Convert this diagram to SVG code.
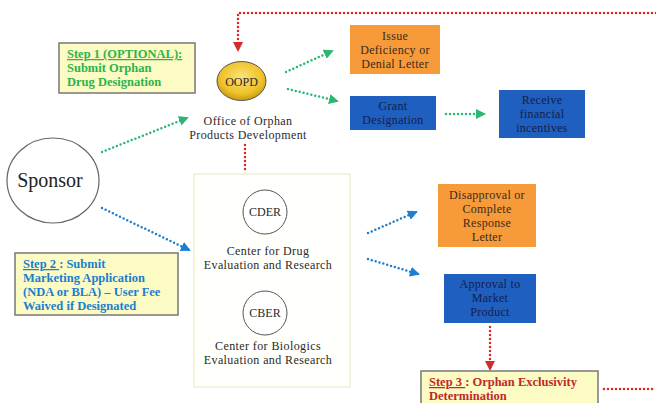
<svg xmlns="http://www.w3.org/2000/svg" width="656" height="403" viewBox="0 0 656 403" font-family="'Liberation Serif', serif">
<defs>
<radialGradient id="gold" cx="50%" cy="40%" r="60%">
<stop offset="0" stop-color="#fbe27a"/>
<stop offset="0.7" stop-color="#f0c22a"/>
<stop offset="1" stop-color="#c99a10"/>
</radialGradient>
<marker id="ag" viewBox="0 0 10 10" refX="8" refY="5" markerWidth="4" markerHeight="4" orient="auto"><path d="M0,0L10,5L0,10z" fill="#2bb673"/></marker>
<marker id="ab" viewBox="0 0 10 10" refX="8" refY="5" markerWidth="4" markerHeight="4" orient="auto"><path d="M0,0L10,5L0,10z" fill="#1d7fd1"/></marker>
<marker id="ar" viewBox="0 0 10 10" refX="8" refY="5" markerWidth="4" markerHeight="4" orient="auto"><path d="M0,0L10,5L0,10z" fill="#d42a2a"/></marker>
</defs>
<style>
text{font-family:'Liberation Serif',serif;text-anchor:middle}
.lbl{font-size:12px;letter-spacing:0.4px;fill:#2a2a2a}
.dark{font-size:12px;letter-spacing:0.3px;fill:#3a2a1a}
.navy{font-size:12px;letter-spacing:0.3px;fill:#14204a}
.step{font-size:12.5px;font-weight:bold;text-anchor:start}
.stepbox{fill:#fdfbc4;stroke:#777;stroke-width:1.5}
.g{stroke:#2bb673;stroke-width:2.5;stroke-dasharray:0 4;stroke-linecap:round;fill:none}
.b{stroke:#1d7fd1;stroke-width:2.5;stroke-dasharray:0 4;stroke-linecap:round;fill:none}
.r{stroke:#d42a2a;stroke-width:2.5;stroke-dasharray:0 4;stroke-linecap:round;fill:none}
.orange{fill:#f79a3a}
.blue{fill:#1f5fbf}
</style>
<rect width="656" height="403" fill="#fff"/>

<g id="connectors">
<path class="r" d="M656,13H238V50" marker-end="url(#ar)"/>
<path class="r" d="M245,145V172"/>
<path class="g" d="M102,152L187,118" marker-end="url(#ag)"/>
<path class="g" d="M286,72L332,51" marker-end="url(#ag)"/>
<path class="g" d="M288,89L337,101" marker-end="url(#ag)"/>
<path class="g" d="M446,114H484" marker-end="url(#ag)"/>
<path class="b" d="M102,208L189,250" marker-end="url(#ab)"/>
<path class="b" d="M368,233L416,212" marker-end="url(#ab)"/>
<path class="b" d="M368,259L418,274" marker-end="url(#ab)"/>
<path class="r" d="M490,327V369" marker-end="url(#ar)"/>
<path class="r" d="M604,389H656"/>
</g>

<g id="step1">
<rect class="stepbox" x="59" y="43" width="136" height="50"/>
<text class="step" fill="#2db34a" x="67" y="58" text-decoration="underline">Step 1 (OPTIONAL):</text>
<text class="step" fill="#2db34a" x="67" y="72">Submit Orphan</text>
<text class="step" fill="#2db34a" x="67" y="86">Drug Designation</text>
</g>

<g id="oopd">
<ellipse cx="241.5" cy="81" rx="24.5" ry="19.5" fill="url(#gold)" stroke="#555" stroke-width="1"/>
<text x="241.5" y="85.5" font-size="12" fill="#2a2a2a">OOPD</text>
<text class="lbl" x="248" y="125">Office of Orphan</text>
<text class="lbl" x="248" y="139">Products Development</text>
</g>

<g id="sponsor">
<ellipse cx="53" cy="180.5" rx="46" ry="42.5" fill="#fff" stroke="#666" stroke-width="1.2"/>
<text x="50" y="187" font-size="20" fill="#222">Sponsor</text>
</g>

<g id="issue">
<rect class="orange" x="350" y="25" width="90" height="49"/>
<text class="dark" x="395" y="40">Issue</text>
<text class="dark" x="395" y="54">Deficiency or</text>
<text class="dark" x="395" y="68">Denial Letter</text>
</g>

<g id="grant">
<rect class="blue" x="350" y="96" width="86" height="34"/>
<text class="navy" x="393" y="110">Grant</text>
<text class="navy" x="393" y="124">Designation</text>
</g>

<g id="receive">
<rect class="blue" x="499" y="90" width="86" height="48"/>
<text class="navy" x="542" y="104">Receive</text>
<text class="navy" x="542" y="118">financial</text>
<text class="navy" x="542" y="132">incentives</text>
</g>

<g id="centers">
<rect x="194" y="174" width="156" height="213" fill="#fffffb" stroke="#eeeacc" stroke-width="1.2"/>
<circle cx="265" cy="212" r="22" fill="#fff" stroke="#555" stroke-width="1"/>
<text x="265" y="216" font-size="12" fill="#2a2a2a">CDER</text>
<text class="lbl" x="268" y="255">Center for Drug</text>
<text class="lbl" x="268" y="269">Evaluation and Research</text>
<circle cx="265" cy="313" r="22" fill="#fff" stroke="#555" stroke-width="1"/>
<text x="265" y="317" font-size="12" fill="#2a2a2a">CBER</text>
<text class="lbl" x="268" y="350">Center for Biologics</text>
<text class="lbl" x="268" y="364">Evaluation and Research</text>
</g>

<g id="step2">
<rect class="stepbox" x="15" y="253" width="163" height="62"/>
<text class="step" fill="#1a7fd0" x="23" y="268"><tspan text-decoration="underline">Step 2 </tspan>:  Submit</text>
<text class="step" fill="#1a7fd0" x="23" y="282">Marketing Application</text>
<text class="step" fill="#1a7fd0" x="23" y="296">(NDA or BLA) – User Fee</text>
<text class="step" fill="#1a7fd0" x="23" y="310">Waived if Designated</text>
</g>

<g id="disapproval">
<rect class="orange" x="438" y="184" width="98" height="63"/>
<text class="dark" x="487" y="199">Disapproval or</text>
<text class="dark" x="487" y="213">Complete</text>
<text class="dark" x="487" y="227">Response</text>
<text class="dark" x="487" y="241">Letter</text>
</g>

<g id="approval">
<rect class="blue" x="444" y="274" width="92" height="49"/>
<text class="navy" x="490" y="288">Approval to</text>
<text class="navy" x="490" y="302">Market</text>
<text class="navy" x="490" y="316">Product</text>
</g>

<g id="step3">
<rect class="stepbox" x="421" y="371" width="177" height="40"/>
<text class="step" fill="#c0282a" x="429" y="386"><tspan text-decoration="underline">Step 3 </tspan>:  Orphan Exclusivity</text>
<text class="step" fill="#c0282a" x="429" y="400">Determination</text>
</g>
</svg>
